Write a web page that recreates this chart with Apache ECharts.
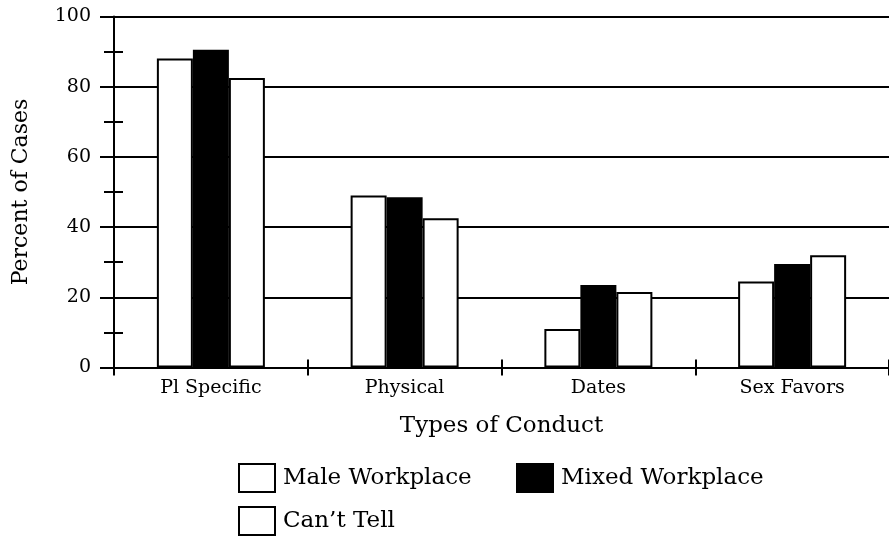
<!DOCTYPE html>
<html>
<head>
<meta charset="utf-8">
<script src="https://cdn.jsdelivr.net/npm/echarts@6/dist/echarts.min.js"></script>
<style>
html,body{margin:0;padding:0;background:#fff;}
#chart{width:889px;height:536px;}
</style>
</head>
<body>
<div id="chart"></div>
<script>
const categories = ['Pl Specific', 'Physical', 'Dates', 'Sex Favors'];
const maleWorkplace = [88, 49, 11, 24.5];
const mixedWorkplace = [90.5, 48.5, 23.5, 29.5];
const cantTell = [82.5, 42.5, 21.5, 32];
const seriesNames = ['Male Workplace', 'Mixed Workplace', 'Can\u2019t Tell'];
const yMin = 0, yMax = 100, yInterval = 20;
const xAxisTitle = 'Types of Conduct';
const yAxisTitle = 'Percent of Cases';

const FONT = 'DejaVu Serif';
const chart = echarts.init(document.getElementById('chart'), null, {renderer: 'canvas'});

function barSeries(name, data, fill) {
  return {
    name: name, type: 'bar', data: data, xAxisIndex: 0, yAxisIndex: 0,
    barWidth: 36, barGap: '0%',
    itemStyle: {color: fill, borderColor: '#000', borderWidth: 2},
    emphasis: {disabled: true}
  };
}
function legendAt(name, left, top) {
  return {
    data: [name], left: left, top: top, padding: 0, orient: 'horizontal',
    itemWidth: 36, itemHeight: 28, icon: 'rect',
    textStyle: {fontFamily: FONT, fontSize: 23, color: '#000', padding: [0, 0, 0, 3]},
    selectedMode: false
  };
}

chart.setOption({
  animation: false,
  backgroundColor: '#fff',
  grid: {left: 114, top: 16.5, width: 778, height: 351},
  legend: [
    legendAt(seriesNames[0], 238, 463),
    legendAt(seriesNames[1], 516, 463),
    legendAt(seriesNames[2], 238, 506)
  ],
  xAxis: [{
    type: 'category', data: categories, position: 'bottom',
    name: xAxisTitle, nameLocation: 'middle', nameGap: 47,
    nameTextStyle: {fontFamily: FONT, fontSize: 23, color: '#000'},
    axisLine: {show: true, lineStyle: {color: '#000', width: 2}},
    axisTick: {show: true, length: 8, lineStyle: {color: '#000', width: 2}},
    axisLabel: {fontFamily: FONT, fontSize: 19, color: '#000', margin: 11},
    splitLine: {show: false}
  }, {
    type: 'category', data: categories, position: 'bottom',
    axisLine: {show: false},
    axisTick: {show: true, inside: true, length: 8, lineStyle: {color: '#000', width: 2}},
    axisLabel: {show: false},
    splitLine: {show: false}
  }],
  yAxis: [{
    type: 'value', min: yMin, max: yMax, interval: yInterval, position: 'left',
    name: yAxisTitle, nameLocation: 'middle', nameGap: 82, nameRotate: 90,
    nameTextStyle: {fontFamily: FONT, fontSize: 22, color: '#000'},
    axisLine: {show: true, lineStyle: {color: '#000', width: 2}},
    axisTick: {show: true, length: 14, lineStyle: {color: '#000', width: 2}},
    minorTick: {show: true, splitNumber: 2, length: 10, lineStyle: {color: '#000', width: 2}},
    axisLabel: {fontFamily: FONT, fontSize: 19, color: '#000', margin: 23},
    splitLine: {show: true, lineStyle: {color: '#000', width: 2}}
  }, {
    type: 'value', min: yMin, max: yMax, interval: yInterval, position: 'left', offset: 0,
    axisLine: {show: false},
    axisTick: {show: false, inside: true},
    minorTick: {show: true, splitNumber: 2, length: 9, lineStyle: {color: '#000', width: 2}},
    axisLabel: {show: false},
    splitLine: {show: false}
  }],
  series: [
    barSeries(seriesNames[0], maleWorkplace, '#fff'),
    barSeries(seriesNames[1], mixedWorkplace, '#000'),
    barSeries(seriesNames[2], cantTell, '#fff')
  ]
});
</script>
</body>
</html>
